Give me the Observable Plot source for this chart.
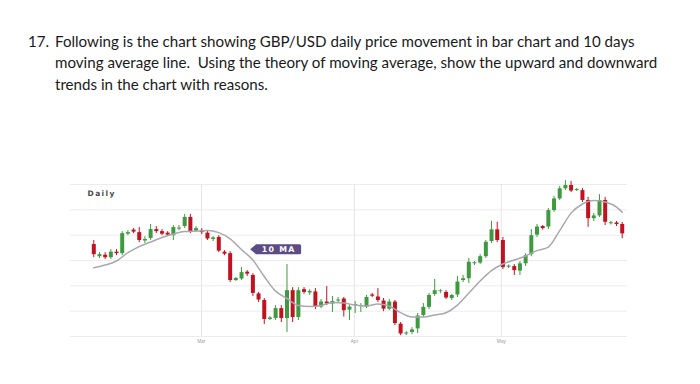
<!DOCTYPE html>
<html><head><meta charset="utf-8">
<script src="https://cdn.jsdelivr.net/npm/d3@7"></script>
<script src="https://cdn.jsdelivr.net/npm/@observablehq/plot@0.6"></script>
<style>
html,body{margin:0;padding:0;background:#fff;width:700px;height:384px;overflow:hidden;}
#q{position:absolute;left:0;top:0;width:700px;font-family:Lato,"Noto Sans",sans-serif;color:#1a1a1a;}
#q div{position:absolute;white-space:pre;line-height:1;}
#chart{position:absolute;left:0;top:170px;}
</style></head><body>
<div id="q"></div>
<div id="chart"></div>
<script>
// ---- question text ----
const questionNumber = "17.";
const questionLines = [
  "Following is the chart showing GBP/USD daily price movement in bar chart and 10 days",
  "moving average line.  Using the theory of moving average, show the upward and downward",
  "trends in the chart with reasons."
];

// ---- GBP/USD daily candles (index = trading day) ----
const opens  = [1.2763,1.2715,1.2721,1.2711,1.2733,1.2727,1.2804,1.2820,1.2810,1.2777,1.2787,1.2822,1.2814,1.2808,1.2798,1.2824,1.2834,1.2870,1.2816,1.2818,1.2808,1.2783,1.2791,1.2733,1.2727,1.2621,1.2627,1.2654,1.2641,1.2568,1.2542,1.2467,1.2471,1.2510,1.2471,1.2581,1.2475,1.2585,1.2572,1.2576,1.2516,1.2536,1.2528,1.2540,1.2548,1.2504,1.2522,1.2518,1.2516,1.2564,1.2556,1.2540,1.2508,1.2536,1.2449,1.2410,1.2416,1.2430,1.2483,1.2515,1.2566,1.2577,1.2574,1.2550,1.2564,1.2621,1.2628,1.2687,1.2690,1.2715,1.2775,1.2821,1.2779,1.2674,1.2676,1.2658,1.2687,1.2723,1.2800,1.2834,1.2832,1.2897,1.2943,1.2983,1.2996,1.2976,1.2976,1.2937,1.2865,1.2876,1.2937,1.2845,1.2848,1.2842];
const highs  = [1.2779,1.2731,1.2731,1.2743,1.2743,1.2814,1.2818,1.2826,1.2830,1.2794,1.2842,1.2834,1.2822,1.2814,1.2838,1.2838,1.2882,1.2882,1.2834,1.2826,1.2818,1.2794,1.2798,1.2739,1.2735,1.2633,1.2672,1.2660,1.2648,1.2574,1.2550,1.2479,1.2522,1.2522,1.2684,1.2593,1.2593,1.2593,1.2585,1.2589,1.2546,1.2597,1.2558,1.2554,1.2554,1.2522,1.2538,1.2530,1.2562,1.2570,1.2589,1.2550,1.2546,1.2542,1.2455,1.2419,1.2435,1.2491,1.2530,1.2570,1.2625,1.2585,1.2581,1.2566,1.2637,1.2641,1.2708,1.2696,1.2723,1.2779,1.2855,1.2851,1.2791,1.2682,1.2684,1.2696,1.2727,1.2822,1.2842,1.2838,1.2905,1.2953,1.2992,1.3016,1.3012,1.2984,1.2984,1.2949,1.2886,1.2960,1.2949,1.2854,1.2854,1.2850];
const lows   = [1.2711,1.2708,1.2704,1.2704,1.2719,1.2719,1.2798,1.2806,1.2771,1.2767,1.2779,1.2806,1.2798,1.2794,1.2779,1.2818,1.2826,1.2806,1.2810,1.2802,1.2779,1.2775,1.2731,1.2719,1.2613,1.2617,1.2621,1.2637,1.2558,1.2534,1.2447,1.2463,1.2463,1.2455,1.2416,1.2455,1.2463,1.2566,1.2562,1.2506,1.2510,1.2522,1.2495,1.2534,1.2477,1.2463,1.2491,1.2495,1.2510,1.2554,1.2534,1.2498,1.2502,1.2443,1.2403,1.2403,1.2407,1.2412,1.2475,1.2506,1.2558,1.2570,1.2546,1.2542,1.2554,1.2613,1.2609,1.2680,1.2684,1.2708,1.2767,1.2771,1.2664,1.2668,1.2641,1.2641,1.2676,1.2715,1.2791,1.2820,1.2822,1.2890,1.2937,1.2976,1.2968,1.2972,1.2929,1.2831,1.2854,1.2870,1.2838,1.2840,1.2834,1.2786];
const closes = [1.2723,1.2723,1.2711,1.2733,1.2727,1.2806,1.2810,1.2812,1.2779,1.2783,1.2822,1.2814,1.2804,1.2800,1.2830,1.2828,1.2870,1.2814,1.2826,1.2810,1.2785,1.2789,1.2737,1.2725,1.2621,1.2629,1.2652,1.2646,1.2570,1.2544,1.2467,1.2473,1.2510,1.2471,1.2581,1.2475,1.2581,1.2574,1.2578,1.2516,1.2536,1.2528,1.2538,1.2544,1.2502,1.2516,1.2526,1.2522,1.2554,1.2559,1.2542,1.2508,1.2536,1.2451,1.2410,1.2414,1.2426,1.2481,1.2515,1.2562,1.2581,1.2580,1.2552,1.2562,1.2615,1.2628,1.2693,1.2691,1.2715,1.2772,1.2821,1.2779,1.2672,1.2678,1.2660,1.2687,1.2719,1.2798,1.2832,1.2826,1.2897,1.2943,1.2983,1.2996,1.2974,1.2980,1.2937,1.2865,1.2876,1.2937,1.2851,1.2849,1.2842,1.2805];

// ---- 10-day moving average ----
const maIndex  = [0,2,4,6,8,10,12,14,16,18,20,22,24,26,28,30,32,34,36,38,40,42,44,46,48,50,52,54,56,58,60,62,64,66,68,70,72,74,76,78,80,82,84,86,88,90,92,93];
const maValues = [1.2671,1.2682,1.2698,1.2731,1.2755,1.2773,1.2791,1.2805,1.2814,1.2816,1.2818,1.2810,1.2785,1.2743,1.2702,1.2637,1.2579,1.2550,1.2522,1.2518,1.2522,1.2534,1.2532,1.2524,1.2520,1.2528,1.2520,1.2494,1.2477,1.2477,1.2485,1.2494,1.2524,1.2571,1.2619,1.2660,1.2686,1.2702,1.2718,1.2739,1.2753,1.2818,1.2887,1.2923,1.2937,1.2931,1.2911,1.2891];

// ---- axis ticks / labels ----
const monthTicks  = [18.95, 45.88, 71.72];
const monthLabels = ["Mar", "Apr", "May"];
const priceGrid   = [1.24, 1.25, 1.26, 1.27, 1.28, 1.29, 1.30];
const panelLabel  = "Daily";
const maLabel     = "10 MA";
const maLabelIndex = 27.6;
const maLabelPrice = 1.2742;

// ---- question text layout ----
(function(){
  const q = document.getElementById("q");
  const ctx = document.createElement("canvas").getContext("2d");
  ctx.font = "14px Lato";
  const w = ctx.measureText(questionLines[0]).width;
  const fs = 14 * 581 / w;
  const baselines = [48.5, 70, 91.5];
  const off = fs * 0.987 - (fs*1.2 - fs)/2 + fs*0.1;
  const n = document.createElement("div");
  n.textContent = questionNumber;
  n.style.left = "28px"; n.style.fontSize = fs + "px";
  n.style.top = (baselines[0] - off) + "px";
  q.appendChild(n);
  questionLines.forEach((t, k) => {
    const d = document.createElement("div");
    d.textContent = t;
    d.style.left = "55px"; d.style.fontSize = fs + "px";
    d.style.top = (baselines[k] - off) + "px";
    q.appendChild(d);
  });
})();

// ---- chart ----
const candles = opens.map((o, i) => ({
  i, open: o, high: highs[i], low: lows[i], close: closes[i],
  dir: closes[i] >= o ? "up" : "down"
}));
const ma = maIndex.map((i, k) => ({i, v: maValues[k]}));

const GREEN = "#3f9a3f", RED = "#bf1420";

function maTag(index, scales) {
  const x = scales.x(maLabelIndex), y = scales.y(maLabelPrice);
  const g = d3.create("svg:g");
  const w = 51, h = 10, p = 6, r = 1.5;
  g.append("path")
    .attr("d", `M${x},${y} L${x+p},${y-h/2} L${x+w-r},${y-h/2} Q${x+w},${y-h/2} ${x+w},${y-h/2+r} L${x+w},${y+h/2-r} Q${x+w},${y+h/2} ${x+w-r},${y+h/2} L${x+p},${y+h/2} Z`)
    .attr("fill", "#5c4c84");
  g.append("text")
    .attr("x", x + p + (w - p) / 2).attr("y", y + 0.3)
    .attr("text-anchor", "middle").attr("dominant-baseline", "middle")
    .attr("fill", "#fff").attr("font-family", "DejaVu Sans, sans-serif")
    .attr("font-weight", "bold").attr("font-size", 7.8).attr("letter-spacing", 1.3)
    .text(maLabel);
  return g.node();
}

const chart = Plot.plot({
  width: 700, height: 184,
  marginLeft: 70, marginRight: 73, marginTop: 14, marginBottom: 18,
  style: {background: "#fff", overflow: "visible"},
  x: {domain: [-4.1, 93.93], axis: null},
  y: {domain: [1.24, 1.30], axis: null},
  color: {domain: ["up", "down"], range: [GREEN, RED]},
  marks: [
    Plot.ruleY(priceGrid, {stroke: "#ececec", strokeWidth: 1}),
    Plot.ruleX(monthTicks, {stroke: "#e6e6e6", strokeWidth: 1}),
    Plot.axisX(monthTicks, {
      label: null, tickSize: 0, tickPadding: 3, fontSize: 4.5, fill: "#9a9a9a",
      tickFormat: d => monthLabels[monthTicks.indexOf(d)]
    }),
    Plot.text([panelLabel], {
      frameAnchor: "top-left", text: d => d, textAnchor: "start", lineAnchor: "middle",
      dx: 17, dy: 9, fontSize: 7.5, fontWeight: "bold", fill: "#4a4a4a",
      fontFamily: "DejaVu Sans, sans-serif"
    }),
    Plot.ruleX(candles, {x: "i", y1: "low", y2: "high", stroke: "dir", strokeWidth: 1}),
    Plot.ruleX(candles, {x: "i", y1: "open", y2: "close", stroke: "dir", strokeWidth: 4}),
    Plot.line(ma, {x: "i", y: "v", stroke: "#a9a7b2", strokeWidth: 1.5, curve: "monotone-x"}),
    maTag
  ]
});
chart.querySelectorAll("text").forEach(t => {
  if (t.textContent === panelLabel) t.setAttribute("letter-spacing", "1.4");
});
document.getElementById("chart").appendChild(chart);
</script>
</body></html>
